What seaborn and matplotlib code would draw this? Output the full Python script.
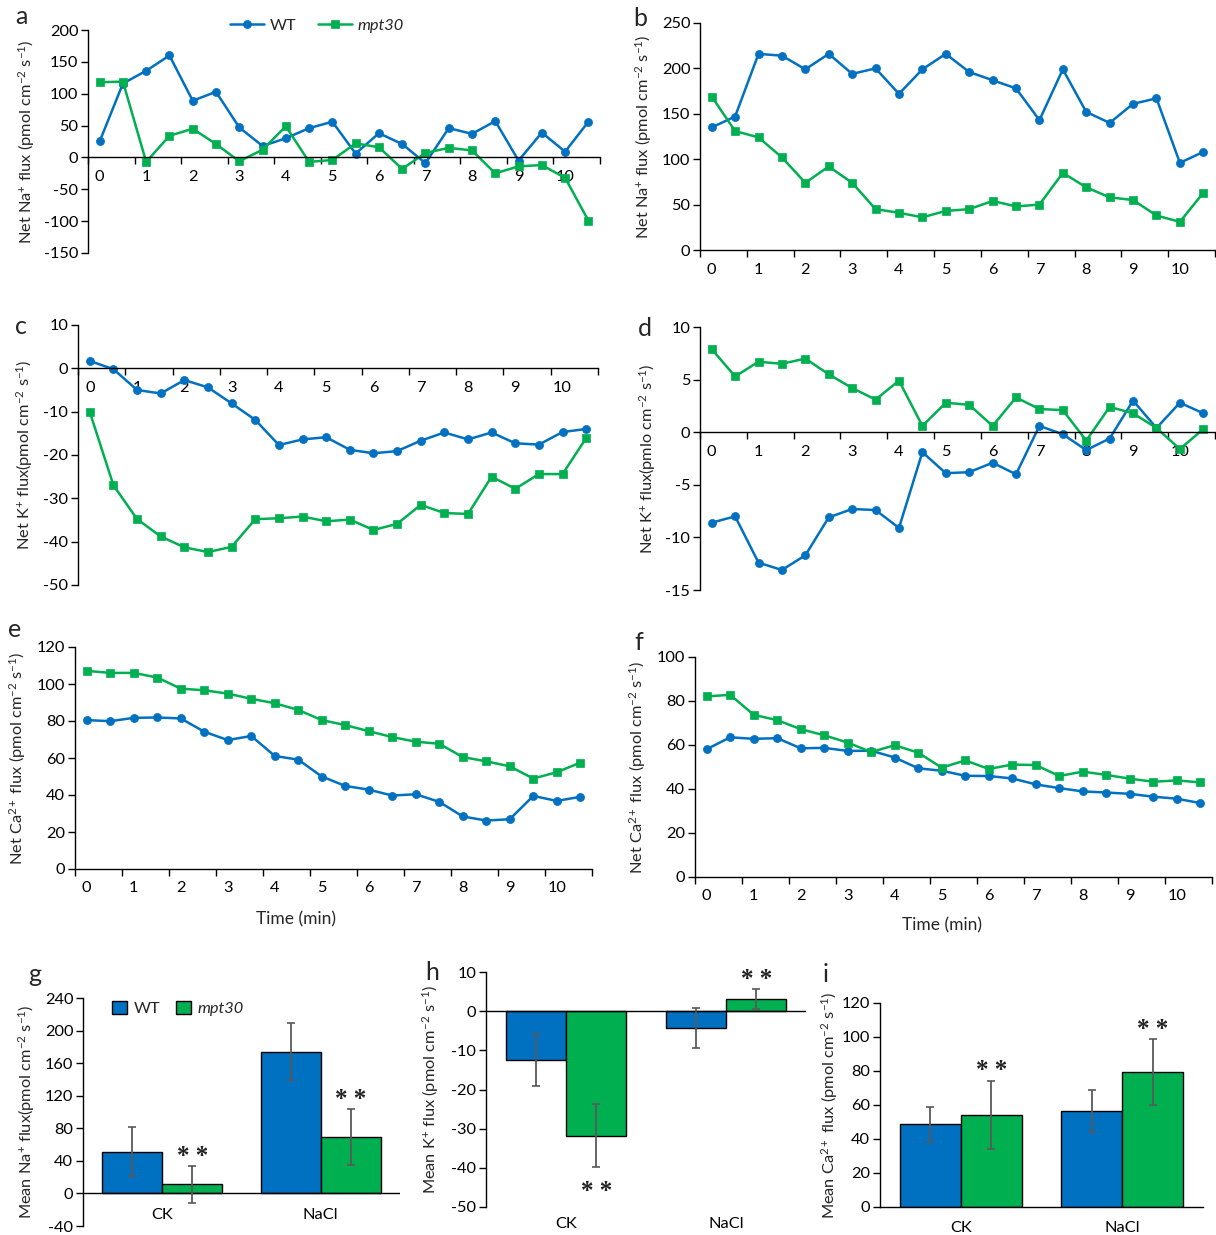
import matplotlib
matplotlib.use('Agg')
import matplotlib.pyplot as plt
import numpy as np
import pandas as pd
import seaborn as sns

# ---------------- data ----------------
time_min = [0, 0.5, 1, 1.5, 2, 2.5, 3, 3.5, 4, 4.5, 5, 5.5, 6, 6.5, 7, 7.5, 8, 8.5, 9, 9.5, 10, 10.5]
genotypes = ['WT', 'mpt30']
conditions = ['CK', 'NaCl']

# a: Na+ flux, control
na_a_wt = [25, 116, 136, 160, 89, 103, 47, 18, 30, 46, 56, 6, 38, 21, -9, 46, 37, 57, -5, 39, 9, 56]
na_a_mt = [118, 119, -7, 34, 45, 21, -6, 12, 49, -7, -4, 22, 16, -18, 7, 15, 11, -25, -14, -12, -32, -99]
# b: Na+ flux, NaCl
na_b_wt = [135, 147, 216, 214, 199, 216, 194, 200, 172, 199, 216, 196, 187, 178, 143, 199, 152, 140, 161, 167, 96, 108]
na_b_mt = [169, 131, 124, 102, 74, 92, 74, 45, 41, 36, 43, 45, 54, 48, 50, 85, 69, 58, 55, 38, 31, 63]
# c: K+ flux, control
k_c_wt = [1.7, -0.2, -5.0, -5.8, -2.7, -4.4, -8.1, -11.9, -17.7, -16.4, -15.9, -18.8, -19.6, -19.1, -16.7, -14.8, -16.4, -14.8, -17.3, -17.6, -14.7, -14.0]
k_c_mt = [-10.1, -27.0, -34.8, -38.8, -41.3, -42.4, -41.2, -34.8, -34.6, -34.2, -35.3, -34.9, -37.3, -35.9, -31.5, -33.4, -33.6, -25.0, -27.8, -24.4, -24.4, -16.1]
# d: K+ flux, NaCl
k_d_wt = [-8.6, -8.0, -12.4, -13.1, -11.7, -8.1, -7.3, -7.4, -9.1, -1.9, -3.9, -3.8, -2.9, -4.0, 0.6, -0.2, -1.7, -0.6, 3.0, 0.4, 2.8, 1.8]
k_d_mt = [7.9, 5.3, 6.7, 6.5, 7.0, 5.5, 4.2, 3.1, 4.9, 0.6, 2.8, 2.6, 0.6, 3.3, 2.2, 2.1, -0.8, 2.4, 1.8, 0.4, -1.6, 0.3]
# e: Ca2+ flux, control
ca_e_wt = [80.5, 79.9, 81.7, 81.9, 81.4, 74.2, 69.7, 71.9, 61.1, 59.1, 50.0, 44.9, 42.9, 39.7, 40.4, 36.3, 28.4, 26.2, 26.9, 39.5, 36.8, 39.0]
ca_e_mt = [107.1, 106.0, 106.0, 103.5, 97.5, 96.6, 94.8, 92.0, 89.6, 86.0, 80.5, 77.8, 74.5, 71.3, 68.8, 67.7, 60.5, 58.2, 55.5, 48.9, 52.3, 57.5]
# f: Ca2+ flux, NaCl
ca_f_wt = [58.1, 63.5, 62.8, 63.1, 58.5, 58.7, 57.3, 57.4, 54.3, 49.4, 48.3, 46.0, 45.9, 44.8, 42.1, 40.4, 38.9, 38.4, 37.8, 36.5, 35.6, 33.6]
ca_f_mt = [82.1, 82.8, 73.7, 71.3, 67.2, 64.4, 61.1, 56.8, 59.9, 56.5, 49.7, 53.0, 49.1, 51.1, 50.9, 45.9, 47.9, 46.4, 44.7, 43.3, 43.9, 43.0]

# g-i: mean fluxes (CK, NaCl) and error bars
mean_na_wt = [51.2, 174.2]
mean_na_mt = [11.3, 69.0]
mean_na_wt_err = [30.0, 34.7]
mean_na_mt_err = [22.6, 34.4]

mean_k_wt = [-12.4, -4.3]
mean_k_mt = [-31.8, 3.1]
mean_k_wt_err = [6.6, 5.0]
mean_k_mt_err = [8.1, 2.6]

mean_ca_wt = [48.6, 56.5]
mean_ca_mt = [54.1, 79.4]
mean_ca_wt_err = [10.2, 12.3]
mean_ca_mt_err = [20.2, 19.2]

x_tick_labels = ['0', '1', '2', '3', '4', '5', '6', '7', '8', '9', '10']

# ---------------- style ----------------
W, H = 1216, 1235
sns.set_theme(style='ticks')
plt.rcParams['font.family'] = ['Lato', 'DejaVu Sans']
plt.rcParams['mathtext.fontset'] = 'custom'
plt.rcParams['mathtext.rm'] = 'Lato'
plt.rcParams['mathtext.it'] = 'Lato:italic'
plt.rcParams['mathtext.bf'] = 'Lato:bold'
plt.rcParams['axes.edgecolor'] = 'black'
plt.rcParams['axes.linewidth'] = 1.0
plt.rcParams['xtick.color'] = 'black'
plt.rcParams['ytick.color'] = 'black'

palette = {'WT': '#0070C0', 'mpt30': '#00B050'}
markers = {'WT': 'o', 'mpt30': 's'}
TICK_FS = 11.8
YLAB_FS = 11.8
LET_FS = 18

fig = plt.figure(figsize=(W / 100, H / 100), dpi=100)


def add_ax(l, r, t, b):
    return fig.add_axes([l / W, 1 - b / H, (r - l) / W, (b - t) / H])


def set_ylab(ax, text, xpx, l, r):
    ax.set_ylabel(text, fontsize=YLAB_FS)
    ax.yaxis.set_label_coords((xpx - l) / (r - l), 0.5)
    ax.yaxis.label.set_va('center')


def line_panel(box, wt, mt, ylim, yticks, ylabel, ylab_x, zero_axis, legend=False, xlabel=None):
    l, r, t, b = box
    ax = add_ax(l, r, t, b)
    df = pd.DataFrame({
        'time': time_min + time_min,
        'flux': wt + mt,
        'genotype': ['WT'] * len(wt) + ['mpt30'] * len(mt),
    })
    sns.lineplot(data=df, x='time', y='flux', hue='genotype', style='genotype',
                 hue_order=genotypes, style_order=genotypes, palette=palette,
                 markers=markers, dashes=False, linewidth=1.8, markersize=5.8,
                 markeredgecolor=None, markeredgewidth=0.5,
                 legend=legend, ax=ax)
    ax.set_xlim(-0.25, 10.75)
    ax.set_ylim(*ylim)
    ax.set_yticks(yticks)
    ax.set_yticklabels([f'{v:g}' for v in yticks])
    ax.set_xticks(range(11))
    ax.set_xticklabels(x_tick_labels)
    ax.set_xticks([k - 0.25 for k in range(12)], minor=True)
    ax.tick_params(axis='x', which='major', length=0, pad=9, labelsize=TICK_FS)
    ax.tick_params(axis='x', which='minor', length=5, width=1, direction='out')
    ax.tick_params(axis='y', length=5, width=1, direction='out', labelsize=TICK_FS, pad=2)
    for s in ('top', 'right'):
        ax.spines[s].set_visible(False)
    if zero_axis:
        ax.spines['bottom'].set_position(('data', 0))
    set_ylab(ax, ylabel, ylab_x, l, r)
    if xlabel:
        ax.set_xlabel(xlabel, fontsize=12.5, labelpad=6)
    else:
        ax.set_xlabel('')
    return ax


def bar_panel(box, wt, mt, wt_err, mt_err, ylim, yticks, ylabel, ylab_x, legend=False):
    l, r, t, b = box
    ax = add_ax(l, r, t, b)
    df = pd.DataFrame({
        'condition': conditions + conditions,
        'flux': wt + mt,
        'genotype': ['WT'] * 2 + ['mpt30'] * 2,
    })
    sns.barplot(data=df, x='condition', y='flux', hue='genotype', order=conditions,
                hue_order=genotypes, palette=palette, saturation=1, width=0.756,
                edgecolor='black', linewidth=1.0, errorbar=None, legend=legend, ax=ax)
    errs = [wt_err, mt_err]
    vals = [wt, mt]
    for cont, err, val in zip(ax.containers, errs, vals):
        xs = [p.get_x() + p.get_width() / 2 for p in cont]
        ax.errorbar(xs, val, yerr=err, fmt='none', ecolor='#595959', elinewidth=1.3,
                    capsize=3, capthick=1.2, zorder=5)
    ax.set_xlim(-0.5, 1.5)
    ax.set_ylim(*ylim)
    ax.set_yticks(yticks)
    ax.set_yticklabels([f'{v:g}' for v in yticks])
    ax.tick_params(axis='y', length=5, width=1, direction='out', labelsize=TICK_FS, pad=2)
    for s in ('top', 'right'):
        ax.spines[s].set_visible(False)
    ax.set_xlabel('')
    set_ylab(ax, ylabel, ylab_x, l, r)
    return ax


def stars(ax, cont_idx, bar_idx, val, err, up=True):
    p = ax.containers[cont_idx][bar_idx]
    x = p.get_x() + p.get_width() / 2
    y = val + err if up else val - err
    ax.annotate('* *', xy=(x, y), xytext=(0, 7 if up else -17), textcoords='offset points',
                ha='center', va='center', fontsize=18, fontweight='bold',
                family='Liberation Serif', color='#222222')


# ---------------- line panels ----------------
lab_na = r'Net Na$^{+}$ flux (pmol cm$^{-2}$ s$^{-1}$)'
ax_a = line_panel((88, 600, 30, 253), na_a_wt, na_a_mt, (-150, 200), list(range(-150, 201, 50)),
                  lab_na, 27, True, legend=True)
sns.move_legend(ax_a, 'center', bbox_to_anchor=(0.447, 1.02), ncol=2, frameon=False, title=None,
                fontsize=TICK_FS, handlelength=2.1, handletextpad=0.35, columnspacing=1.3)
for txt in ax_a.get_legend().get_texts():
    if txt.get_text() == 'mpt30':
        txt.set_fontstyle('italic')

line_panel((700, 1215, 23, 250), na_b_wt, na_b_mt, (0, 250), list(range(0, 251, 50)),
           lab_na, 644, False)
line_panel((78, 598, 325, 585), k_c_wt, k_c_mt, (-50, 10), list(range(-50, 11, 10)),
           r'Net K$^{+}$ flux(pmol cm$^{-2}$ s$^{-1}$)', 24.5, True)
line_panel((700, 1215, 327, 590), k_d_wt, k_d_mt, (-15, 10), list(range(-15, 11, 5)),
           r'Net K$^{+}$ flux(pmlo cm$^{-2}$ s$^{-1}$)', 647.5, True)
lab_ca = r'Net Ca$^{2+}$ flux (pmol cm$^{-2}$ s$^{-1}$)'
ax_e = line_panel((75, 592, 647, 869), ca_e_wt, ca_e_mt, (0, 120), list(range(0, 121, 20)),
                  lab_ca, 17.5, False, xlabel='Time (min)')
ax_e.xaxis.set_label_coords((296.5 - 75) / (592 - 75), (869 - 911) / (869 - 647))
ax_f = line_panel((695, 1212, 657, 877), ca_f_wt, ca_f_mt, (0, 100), list(range(0, 101, 20)),
                  lab_ca, 638, False, xlabel='Time (min)')
ax_f.xaxis.set_label_coords((942 - 695) / (1212 - 695), (877 - 917) / (877 - 657))

# ---------------- bar panels ----------------
ax_g = bar_panel((83, 400, 998, 1226), mean_na_wt, mean_na_mt, mean_na_wt_err, mean_na_mt_err,
                 (-40, 240), list(range(-40, 241, 40)),
                 r'Mean Na$^{+}$ flux(pmol cm$^{-2}$ s$^{-1}$)', 27, legend=True)
ax_g.spines['bottom'].set_visible(False)
ax_g.axhline(0, color='black', lw=1.0, zorder=1)
ax_g.tick_params(axis='x', length=0, pad=-13, labelsize=TICK_FS)
sns.move_legend(ax_g, 'center', bbox_to_anchor=(0.30, 0.955), ncol=2, frameon=True, title=None,
                fontsize=TICK_FS, handlelength=0.9, handleheight=0.9, handletextpad=0.4,
                columnspacing=1.0, fancybox=False, edgecolor='white', framealpha=1)
for txt in ax_g.get_legend().get_texts():
    if txt.get_text() == 'mpt30':
        txt.set_fontstyle('italic')
stars(ax_g, 1, 0, mean_na_mt[0], mean_na_mt_err[0])
stars(ax_g, 1, 1, mean_na_mt[1], mean_na_mt_err[1])

ax_h = bar_panel((486, 806, 972, 1207), mean_k_wt, mean_k_mt, mean_k_wt_err, mean_k_mt_err,
                 (-50, 10), list(range(-50, 11, 10)),
                 r'Mean K$^{+}$ flux (pmol cm$^{-2}$ s$^{-1}$)', 431)
ax_h.spines['bottom'].set_visible(False)
ax_h.axhline(0, color='black', lw=1.0, zorder=1)
ax_h.tick_params(axis='x', length=0, pad=7, labelsize=TICK_FS)
stars(ax_h, 1, 0, mean_k_mt[0], mean_k_mt_err[0], up=False)
stars(ax_h, 1, 1, mean_k_mt[1], mean_k_mt_err[1])

ax_i = bar_panel((880, 1203, 1003, 1207), mean_ca_wt, mean_ca_mt, mean_ca_wt_err, mean_ca_mt_err,
                 (0, 120), list(range(0, 121, 20)),
                 r'Mean Ca$^{2+}$ flux (pmol cm$^{-2}$ s$^{-1}$)', 830)
ax_i.tick_params(axis='x', length=0, pad=10, labelsize=TICK_FS)
stars(ax_i, 1, 0, mean_ca_mt[0], mean_ca_mt_err[0])
stars(ax_i, 1, 1, mean_ca_mt[1], mean_ca_mt_err[1])

# ---------------- panel letters ----------------
letters = [('a', 21, 17), ('b', 640, 19), ('c', 21, 326), ('d', 645, 329), ('e', 15, 629),
           ('f', 639, 642), ('g', 35, 974), ('h', 432, 972), ('i', 826, 974)]
for s, x, y in letters:
    fig.text(x / W, 1 - y / H, s, fontsize=LET_FS, ha='center', va='center')

fig.savefig('out.png', dpi=100)
